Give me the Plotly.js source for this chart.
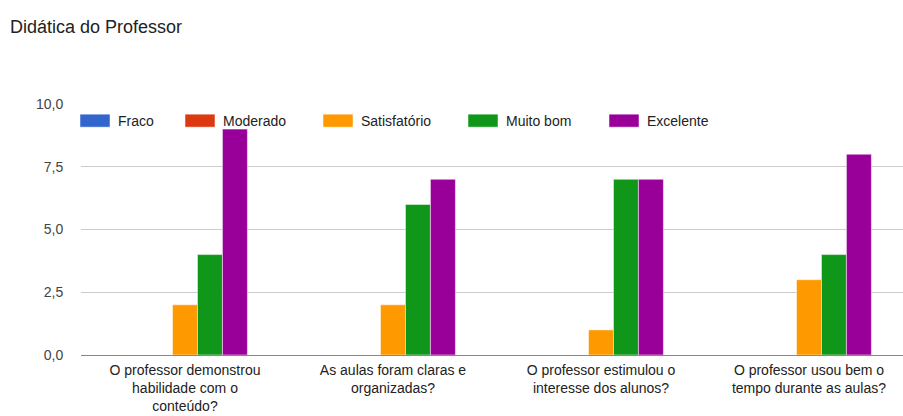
<!DOCTYPE html>
<html>
<head>
<meta charset="utf-8">
<script src="https://cdn.plot.ly/plotly-3.0.1.min.js"></script>
<style>html,body{margin:0;padding:0;background:#fff;}#chart{width:903px;height:416px;}</style>
</head>
<body>
<div id="chart"></div>
<script>
const categories = [
  "O professor demonstrou<br>habilidade com o<br>conteúdo?",
  "As aulas foram claras e<br>organizadas?",
  "O professor estimulou o<br>interesse dos alunos?",
  "O professor usou bem o<br>tempo durante as aulas?"
];
const seriesNames = ["Fraco", "Moderado", "Satisfatório", "Muito bom", "Excelente"];
const fraco = [0, 0, 0, 0];
const moderado = [0, 0, 0, 0];
const satisfatorio = [2, 2, 1, 3];
const muitoBom = [4, 6, 7, 4];
const excelente = [9, 7, 7, 8];
const yTicks = [0, 2.5, 5, 7.5, 10];

const colors = ["#3366cc", "#dc3912", "#ff9900", "#109618", "#990099"];
const values = [fraco, moderado, satisfatorio, muitoBom, excelente];
// legend entry left positions (px) in the reference picture
const legendPx = [80, 185, 323, 468, 609];

const plotLeft = 81, plotWidth = 903 - 81;

const traces = seriesNames.map((name, i) => ({
  type: 'bar',
  name: name,
  x: categories,
  y: values[i],
  legend: i === 0 ? 'legend' : 'legend' + (i + 1),
  marker: {color: colors[i], line: {color: '#ffffff', width: 0.5}},
  hoverinfo: 'none'
}));

const layout = {
  width: 903,
  height: 416,
  margin: {l: plotLeft, r: 0, t: 104, b: 61},
  paper_bgcolor: '#ffffff',
  plot_bgcolor: '#ffffff',
  font: {family: '"Liberation Sans", Arial, sans-serif', size: 14, color: '#222222'},
  separators: ',.',
  title: {
    text: 'Didática do Professor',
    font: {size: 18, color: '#222222'},
    x: 10 / 903, xanchor: 'left', xref: 'container',
    y: 0.935, yanchor: 'middle'
  },
  barmode: 'group',
  bargap: 0.4,
  bargroupgap: 0,
  showlegend: true,
  xaxis: {
    type: 'category',
    range: [-0.5, 3.452],
    showgrid: false,
    showline: false,
    ticks: '',
    ticklabelstandoff: 5,
    tickfont: {size: 14, color: '#222222'},
    fixedrange: true
  },
  yaxis: {
    range: [0, 10],
    tickvals: yTicks,
    tickformat: '.1f',
    showgrid: true,
    gridcolor: '#cccccc',
    zeroline: true,
    zerolinecolor: '#888888',
    zerolinewidth: 1,
    tickfont: {size: 14, color: '#444444'},
    ticks: 'outside',
    ticklen: 14,
    tickcolor: 'rgba(0,0,0,0)',
    fixedrange: true
  }
};

legendPx.forEach((px, i) => {
  const key = i === 0 ? 'legend' : 'legend' + (i + 1);
  layout[key] = {
    orientation: 'h',
    x: (px - 2 - plotLeft) / plotWidth, xanchor: 'left',
    y: 0.932, yanchor: 'middle',
    bgcolor: 'rgba(255,255,255,0)',
    borderwidth: 0,
    font: {size: 14, color: '#222222'}
  };
});

function widenSymbols() {
  document.querySelectorAll('#chart .legendpoints path').forEach(p => {
    p.setAttribute('d', 'M12,6.5H-18V-6.5H12Z');
  });
}

Plotly.newPlot('chart', traces, layout, {displayModeBar: false, staticPlot: true}).then(() => {
  widenSymbols();
  setTimeout(widenSymbols, 50);
});
</script>
</body>
</html>
